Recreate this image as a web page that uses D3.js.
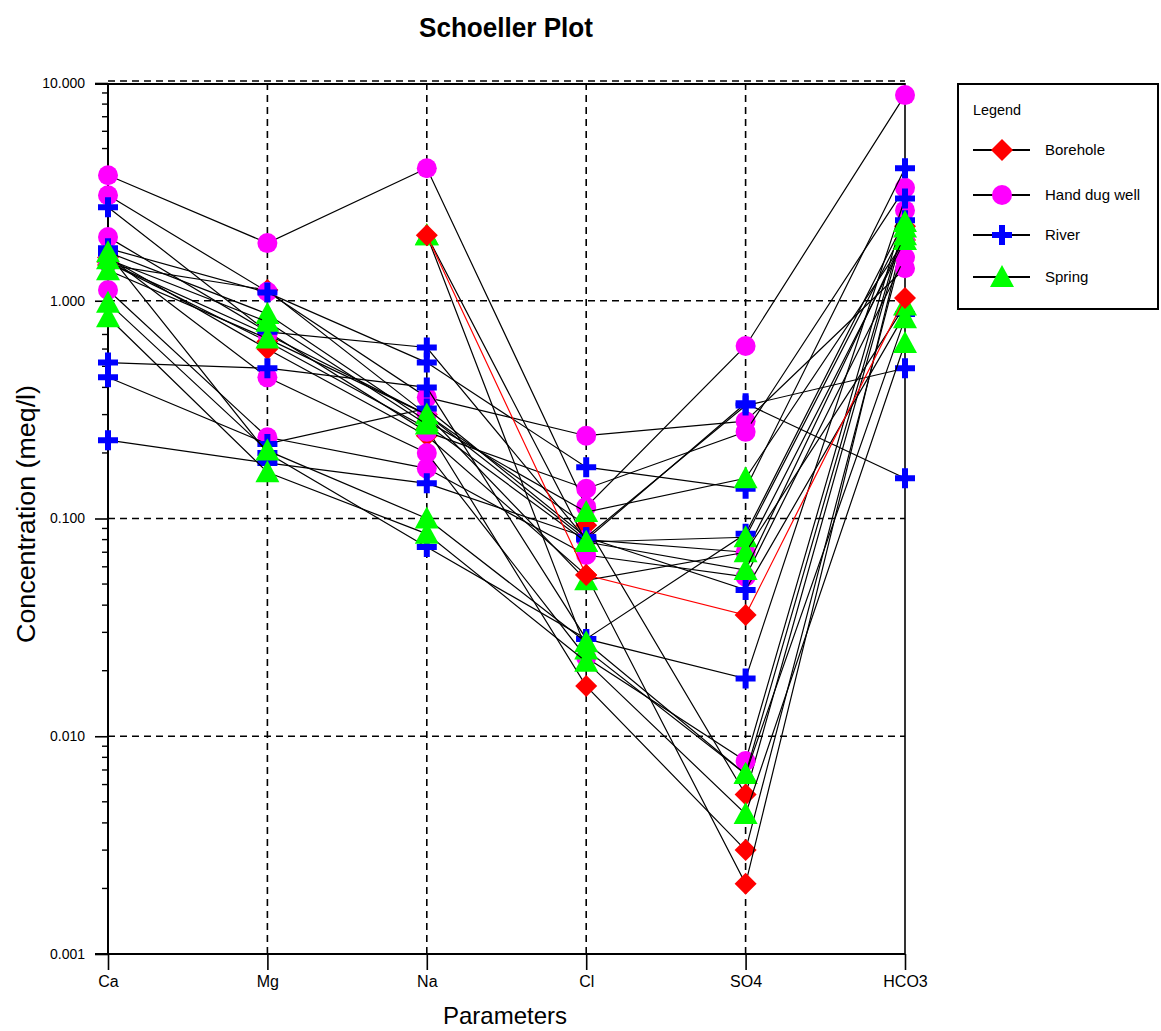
<!DOCTYPE html>
<html>
<head>
<meta charset="utf-8">
<script src="https://cdn.jsdelivr.net/npm/d3@7"></script>
<style>
  html, body { margin: 0; padding: 0; background: #fff; }
  svg { display: block; font-family: "Liberation Sans", Arial, sans-serif; }
</style>
</head>
<body>
<svg id="chart" width="1161" height="1031"></svg>
<script>
// ---------------- data ----------------
const categories = ["Ca", "Mg", "Na", "Cl", "SO4", "HCO3"];
const categoryLabels = ["Ca", "Mg", "Na", "Cl", "SO4", "HCO3"];
const yTickValues = [0.001, 0.01, 0.1, 1, 10];
const yTickLabels = ["0.001", "0.010", "0.100", "1.000", "10.000"];
const seriesNames = ["Borehole", "Hand dug well", "River", "Spring"];

// values per sample in order Ca, Mg, Na, Cl, SO4, HCO3 (meq/l); null = not measured
const boreholeSamples = [
  [1.46, 1.12, 0.30, 0.093, 0.0054, 2.2],
  [1.50, 0.65, 0.26, 0.017, 0.0030, 1.9],
  [1.58, 0.60, 0.24, 0.055, 0.0021, 2.1]
];
const boreholeRedSample = [null, null, 2.0, 0.055, 0.036, 1.03];
const handDugWellSamples = [
  [3.77, 1.84, 4.06, 0.113, 0.62, 8.8],
  [3.05, 1.10, 0.36, 0.24, 0.28, 1.41],
  [1.96, 0.72, 0.25, 0.137, 0.25, 3.3],
  [1.12, 0.236, 0.17, 0.068, 0.054, 1.58],
  [1.60, 0.445, 0.20, 0.023, 0.0077, 2.6],
  [1.50, 0.70, 0.30, 0.080, 0.070, 1.9]
];
const riverSamples = [
  [2.69, 0.72, 0.61, 0.080, 0.338, 0.153],
  [1.74, 1.09, 0.52, 0.172, 0.137, 4.06],
  [0.52, 0.49, 0.40, 0.028, 0.0184, 2.95],
  [0.445, 0.22, 0.32, 0.082, 0.33, 0.49],
  [0.229, 0.18, 0.145, 0.082, 0.047, 0.87],
  [1.65, 0.20, 0.074, 0.028, 0.085, 2.34]
];
const springSamples = [
  [null, null, 2.0, 0.078, 0.082, 2.17],
  [null, null, 2.0, 0.025, 0.0067, 2.3],
  [1.67, 0.87, 0.28, 0.107, 0.153, 1.9],
  [1.38, 0.67, 0.30, 0.052, 0.070, 0.95],
  [0.98, 0.205, 0.10, 0.027, 0.0067, 0.83],
  [0.84, 0.163, 0.085, 0.022, 0.0044, 0.64],
  [1.55, 0.80, 0.27, 0.078, 0.058, 2.0]
];

// ---------------- layout ----------------
const svg = d3.select("#chart");
const plot = { left: 108, right: 905, top: 83, bottom: 954 };
const x = d3.scalePoint().domain(categories).range([plot.left, plot.right]);
const y = d3.scaleLog().domain([0.001, 10]).range([plot.bottom, plot.top]);

const colors = { "Borehole": "#ff0000", "Hand dug well": "#ff00ff", "River": "#0000ff", "Spring": "#00ff00" };

function markerPath(series) {
  if (series === "Borehole") return "M0,-11L11,0L0,11L-11,0Z";
  if (series === "Hand dug well") return "M-10,0A10,10 0 1,0 10,0A10,10 0 1,0 -10,0Z";
  if (series === "River") return "M-3,-10H3V-3H10V3H3V10H-3V3H-10V-3H-3Z";
  return "M0,-12L12,10L-12,10Z";
}

// ---------------- grid & axes ----------------
const g = svg.append("g");
g.selectAll(".hgrid").data([0.01, 0.1, 1]).join("line")
  .attr("x1", plot.left).attr("x2", plot.right)
  .attr("y1", d => y(d)).attr("y2", d => y(d))
  .attr("stroke", "#000").attr("stroke-width", 1.6).attr("stroke-dasharray", "7,5");
g.append("line").attr("x1", plot.left).attr("x2", plot.right)
  .attr("y1", y(10) - 2).attr("y2", y(10) - 2)
  .attr("stroke", "#000").attr("stroke-width", 1.6).attr("stroke-dasharray", "7,5");
g.selectAll(".vgrid").data(categories.slice(1, 5)).join("line")
  .attr("x1", d => x(d)).attr("x2", d => x(d))
  .attr("y1", plot.top).attr("y2", plot.bottom)
  .attr("stroke", "#000").attr("stroke-width", 1.6).attr("stroke-dasharray", "7,5");

g.append("line").attr("x1", plot.left - 13).attr("x2", plot.right).attr("y1", y(10) + 1).attr("y2", y(10) + 1)
  .attr("stroke", "#000").attr("stroke-width", 2);
g.append("line").attr("x1", plot.right).attr("x2", plot.right).attr("y1", plot.top).attr("y2", plot.bottom)
  .attr("stroke", "#000").attr("stroke-width", 1.6);

const yAxis = d3.axisLeft(y)
  .tickValues(yTickValues)
  .tickFormat((d, i) => yTickLabels[i])
  .tickSize(13).tickPadding(10);
const ya = svg.append("g").attr("transform", `translate(${plot.left},0)`).call(yAxis);
ya.select(".domain").attr("stroke-width", 2).attr("d", `M0,${plot.top}V${plot.bottom}`);
ya.selectAll(".tick line").attr("stroke-width", 1.6);
ya.selectAll(".tick text").attr("font-size", 14).attr("font-family", "Liberation Sans, Arial, sans-serif").attr("fill", "#000");
const minor = [];
for (let e = -3; e < 1; e++) for (let m = 2; m <= 9; m++) minor.push(m * Math.pow(10, e));
ya.selectAll(".minor").data(minor).join("line").attr("class", "minor")
  .attr("x1", -6).attr("x2", 0).attr("y1", d => y(d)).attr("y2", d => y(d))
  .attr("stroke", "#000").attr("stroke-width", 1.4);

const xAxis = d3.axisBottom(x).tickSize(16).tickPadding(6).tickFormat((d, i) => categoryLabels[i]);
const xa = svg.append("g").attr("transform", `translate(0,${plot.bottom})`).call(xAxis);
xa.select(".domain").attr("stroke-width", 2).attr("d", `M${plot.left - 13},0H${plot.right}`);
xa.selectAll(".tick line").attr("stroke-width", 1.6);
xa.selectAll(".tick text").attr("font-size", 16).attr("font-family", "Liberation Sans, Arial, sans-serif").attr("fill", "#000");

// ---------------- data lines & markers ----------------
const lineGen = d3.line()
  .defined(d => d.v != null)
  .x(d => x(d.c)).y(d => y(d.v));

function drawSample(values, series, lineColor) {
  const pts = values.map((v, i) => ({ c: categories[i], v }));
  const sg = svg.append("g");
  sg.append("path").attr("d", lineGen(pts)).attr("fill", "none")
    .attr("stroke", lineColor).attr("stroke-width", 1.2);
  sg.selectAll("path.m").data(pts.filter(p => p.v != null)).join("path").attr("class", "m")
    .attr("d", markerPath(series))
    .attr("transform", p => `translate(${x(p.c)},${y(p.v)})`)
    .attr("fill", colors[series]);
}

boreholeSamples.forEach(s => drawSample(s, "Borehole", "#000"));
handDugWellSamples.forEach(s => drawSample(s, "Hand dug well", "#000"));
riverSamples.forEach(s => drawSample(s, "River", "#000"));
springSamples.forEach(s => drawSample(s, "Spring", "#000"));
drawSample(boreholeRedSample, "Borehole", "#ff0000");

// ---------------- titles ----------------
svg.append("text").attr("x", 506).attr("y", 37).attr("text-anchor", "middle")
  .attr("font-size", 27).attr("font-weight", "bold")
  .attr("textLength", 174).attr("lengthAdjust", "spacingAndGlyphs")
  .text("Schoeller Plot");
svg.append("text").attr("transform", "translate(35,514) rotate(-90)").attr("text-anchor", "middle")
  .attr("font-size", 26).attr("textLength", 258).attr("lengthAdjust", "spacingAndGlyphs")
  .text("Concentration (meq/l)");
svg.append("text").attr("x", 505).attr("y", 1024).attr("text-anchor", "middle")
  .attr("font-size", 24).attr("textLength", 124).attr("lengthAdjust", "spacingAndGlyphs")
  .text("Parameters");

// ---------------- legend ----------------
const lg = svg.append("g");
lg.append("rect").attr("x", 958).attr("y", 84).attr("width", 200).attr("height", 225)
  .attr("fill", "#fff").attr("stroke", "#000").attr("stroke-width", 2);
lg.append("text").attr("x", 973).attr("y", 115).attr("font-size", 15)
  .attr("textLength", 48).attr("lengthAdjust", "spacingAndGlyphs").text("Legend");
const legendY = [150, 195, 235, 277];
seriesNames.forEach((name, i) => {
  const ly = legendY[i];
  lg.append("line").attr("x1", 973).attr("x2", 1030).attr("y1", ly).attr("y2", ly)
    .attr("stroke", "#000").attr("stroke-width", 2);
  lg.append("path").attr("d", markerPath(name)).attr("transform", `translate(1002,${ly})`)
    .attr("fill", colors[name]);
  lg.append("text").attr("x", 1045).attr("y", ly + 5).attr("font-size", 15).text(name);
});
</script>
</body>
</html>
